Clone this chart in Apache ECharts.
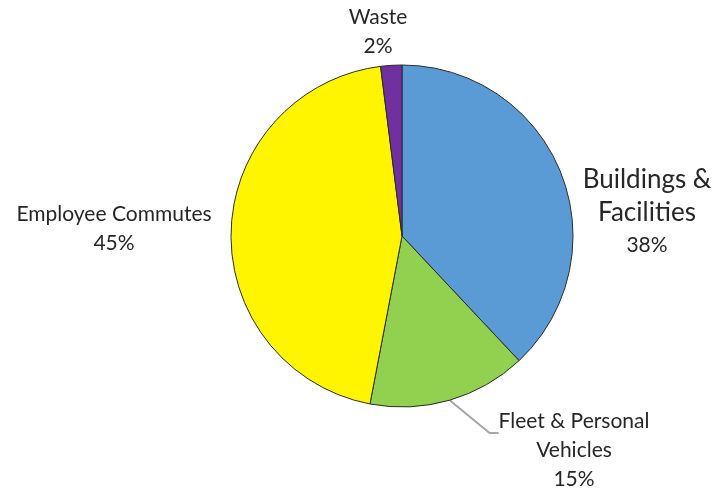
<!DOCTYPE html>
<html>
<head>
<meta charset="utf-8">
<script src="https://cdn.jsdelivr.net/npm/echarts@6/dist/echarts.min.js"></script>
<style>html,body{margin:0;padding:0;background:#fff}#c{width:713px;height:491px}</style>
</head>
<body>
<div id="c"></div>
<script>
const categories = ['Buildings & Facilities', 'Fleet & Personal Vehicles', 'Employee Commutes', 'Waste'];
const values = [38, 15, 45, 2];
const labelTexts = ['{big|Buildings &}\n{big|Facilities}\n{pct|38%}', '{sp| }\n{n|Fleet & Personal}\n{n|Vehicles}\n{n|15%}', '{n|Employee Commutes}\n{n|45%}', '{n|Waste}\n{n|2%}'];
const colors = ['#5B9BD5', '#92D050', '#FFF500', '#7030A0'];

const labelPos = [[647, 212], [574, 425], [114, 229], [378, 32]];

const chart = echarts.init(document.getElementById('c'));
chart.setOption({
  animation: false,
  series: [{
    type: 'pie',
    center: [402, 236],
    radius: 171,
    startAngle: 90,
    clockwise: true,
    data: categories.map((c, i) => ({
      name: c, value: values[i],
      itemStyle: { color: colors[i] },
      label: { formatter: labelTexts[i] },
      labelLine: { show: i === 1 }
    })),
    itemStyle: { borderColor: '#2b2b2b', borderWidth: 1 },
    label: {
      show: true,
      position: 'outside',
      overflow: 'none',
      fontFamily: 'Lato',
      color: '#262626',
      align: 'center',
      rich: {
        sp: { fontSize: 10, lineHeight: 50 },
        n: { fontFamily: 'Lato', fontSize: 21, color: '#262626', lineHeight: 29, align: 'center' },
        big: { fontFamily: 'Lato', fontSize: 26, color: '#262626', lineHeight: 33, align: 'center' },
        pct: { fontFamily: 'Lato', fontSize: 21, color: '#262626', lineHeight: 31, align: 'center' }
      }
    },
    labelLine: { lineStyle: { color: '#A6A6A6', width: 2 }, length: 20, length2: 9, minTurnAngle: 0 },
    labelLayout: function (p) {
      return { x: labelPos[p.dataIndex][0], y: labelPos[p.dataIndex][1], align: 'center', verticalAlign: 'middle' };
    }
  }]
});
</script>
</body>
</html>
